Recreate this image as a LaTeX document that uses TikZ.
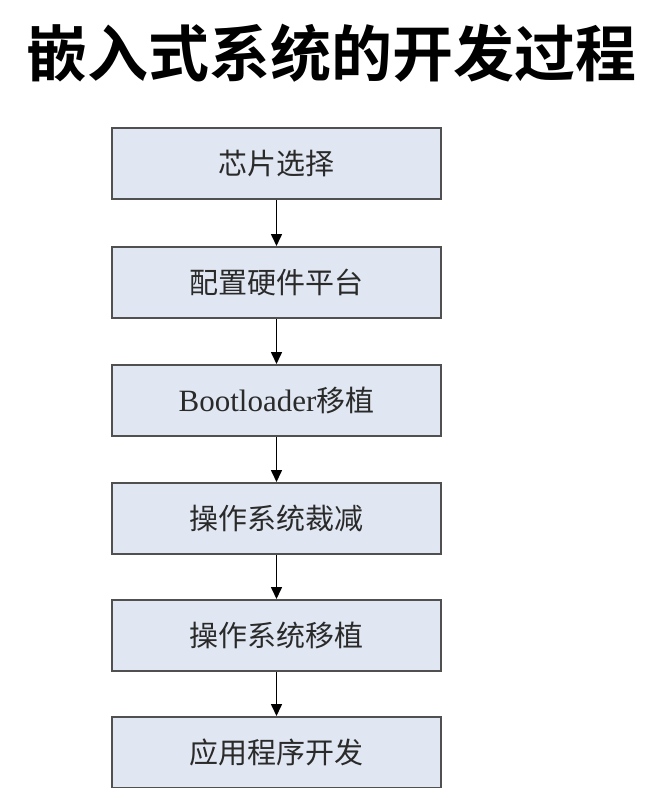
\documentclass[tikz,border=0pt]{standalone}
\usepackage{fontspec}
\setmainfont{Liberation Serif}
\newfontfamily\cjk{Noto Sans CJK SC}
\newfontfamily\cjkbold{Noto Sans CJK SC Bold}
\usetikzlibrary{arrows.meta}
\definecolor{boxfill}{HTML}{E1E7F2}
\definecolor{boxline}{HTML}{505050}
\definecolor{txt}{HTML}{2A2A2A}
\begin{document}
\begin{tikzpicture}[x=1pt,y=-1pt,
  stepbox/.style={draw=boxline, line width=2pt, fill=boxfill, minimum width=329pt, minimum height=71pt, inner sep=0pt, text=txt, font=\fontsize{29}{32}\selectfont},
  flow/.style={line width=1.6pt, -{Triangle[width=11pt,length=12pt]}}]
\useasboundingbox (0,0) rectangle (652,788);
\node[font=\cjkbold\fontsize{61}{66}\selectfont, inner sep=0pt] (title) at (332,53) {嵌入式系统的开发过程};
\node[stepbox] (s1) at (276.5,163.5) {\cjk 芯片选择};
\node[stepbox] (s2) at (276.5,282.5) {\cjk 配置硬件平台};
\node[stepbox] (s3) at (276.5,400.5) {\fontsize{31}{34}\selectfont Bootloader{\cjk\fontsize{29}{32}\selectfont 移植}};
\node[stepbox] (s4) at (276.5,518.5) {\cjk 操作系统裁减};
\node[stepbox] (s5) at (276.5,635.5) {\cjk 操作系统移植};
\node[stepbox] (s6) at (276.5,752.5) {\cjk 应用程序开发};
\foreach \a/\b in {s1/s2,s2/s3,s3/s4,s4/s5,s5/s6}
  \draw[flow] (\a) -- (\b);
\end{tikzpicture}
\end{document}
